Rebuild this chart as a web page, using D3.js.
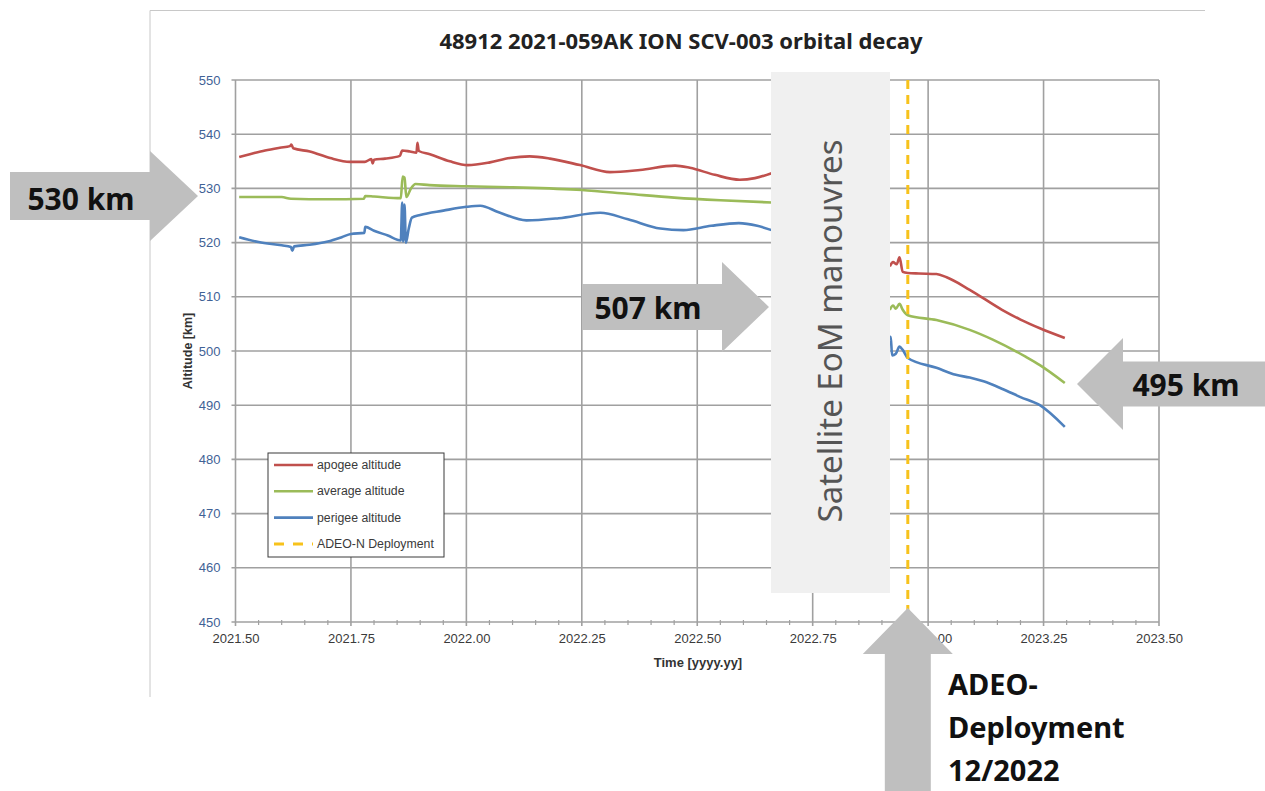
<!DOCTYPE html>
<meta charset="utf-8">
<style>
  body { margin: 0; background: #fff; }
  svg { display: block; }
</style>
<svg width="1265" height="791"></svg>
<script src="https://d3js.org/d3.v7.min.js"></script>
<script>

// ---- data (year, km) ----
var apogee = [
  [2021.508, 535.8], [2021.531, 536.3], [2021.564, 537.0], [2021.596, 537.5], [2021.618, 537.8],
  [2021.621, 538.1], [2021.625, 537.4], [2021.661, 536.8], [2021.705, 535.6], [2021.748, 534.9],
  [2021.780, 534.9], [2021.794, 535.4], [2021.797, 534.6], [2021.800, 535.3], [2021.824, 535.5],
  [2021.856, 536.0], [2021.861, 537.0], [2021.878, 536.8], [2021.892, 536.6], [2021.894, 538.4],
  [2021.897, 536.9], [2021.921, 536.3], [2021.964, 535.0], [2022.003, 534.3], [2022.051, 534.8],
  [2022.094, 535.6], [2022.137, 535.9], [2022.181, 535.5], [2022.246, 534.3], [2022.311, 533.0],
  [2022.376, 533.4], [2022.452, 534.2], [2022.484, 533.8], [2022.538, 532.5], [2022.592, 531.6],
  [2022.625, 531.9], [2022.661, 532.8]
];
var apogeeLate = [
  [2022.917, 515.6], [2022.924, 516.4], [2022.932, 516.0], [2022.938, 517.3], [2022.945, 514.6],
  [2022.956, 514.4], [2022.980, 514.3], [2023.018, 514.2], [2023.040, 513.6], [2023.090, 511.3],
  [2023.160, 507.6], [2023.200, 505.8], [2023.242, 504.2], [2023.296, 502.4]
];
var average = [
  [2021.508, 528.4], [2021.600, 528.4], [2021.620, 528.1], [2021.700, 528.0], [2021.778, 528.1],
  [2021.781, 528.6], [2021.800, 528.5], [2021.858, 528.2], [2021.862, 532.2], [2021.866, 532.0],
  [2021.870, 528.4], [2021.880, 530.0], [2021.890, 530.8], [2021.920, 530.6], [2022.000, 530.4],
  [2022.100, 530.2], [2022.250, 529.7], [2022.350, 529.0], [2022.450, 528.3], [2022.550, 527.8],
  [2022.661, 527.4]
];
var averageLate = [
  [2022.917, 507.6], [2022.924, 508.4], [2022.930, 507.8], [2022.938, 508.7], [2022.945, 507.6],
  [2022.956, 506.6], [2023.018, 505.7], [2023.090, 503.9], [2023.140, 502.1], [2023.210, 499.0],
  [2023.242, 497.4], [2023.296, 494.1]
];
var perigee = [
  [2021.508, 521.0], [2021.550, 520.1], [2021.600, 519.5], [2021.620, 519.2], [2021.623, 518.5],
  [2021.627, 519.3], [2021.660, 519.6], [2021.700, 520.2], [2021.730, 521.0], [2021.750, 521.6],
  [2021.779, 521.8], [2021.781, 522.9], [2021.800, 522.2], [2021.830, 521.3], [2021.858, 520.4],
  [2021.861, 527.4], [2021.863, 520.2], [2021.866, 527.0], [2021.869, 520.0], [2021.875, 522.5],
  [2021.882, 524.6], [2021.900, 525.1], [2021.950, 525.9], [2022.000, 526.6], [2022.030, 526.8],
  [2022.070, 525.6], [2022.130, 524.1], [2022.200, 524.5], [2022.290, 525.5], [2022.350, 524.3],
  [2022.420, 522.6], [2022.470, 522.3], [2022.530, 523.1], [2022.590, 523.6], [2022.630, 523.1],
  [2022.661, 522.3]
];
var perigeeLate = [
  [2022.917, 502.0], [2022.919, 502.6], [2022.922, 499.2], [2022.930, 499.5], [2022.938, 500.8],
  [2022.945, 500.2], [2022.956, 498.7], [2023.018, 496.9], [2023.060, 495.6], [2023.090, 495.1],
  [2023.120, 494.4], [2023.161, 493.0], [2023.200, 491.5], [2023.242, 490.0], [2023.296, 486.0]
];

var deployYear = 2022.956;
var xTicks = [2021.50, 2021.75, 2022.00, 2022.25, 2022.50, 2022.75, 2023.00, 2023.25, 2023.50];
var yTicks = [450, 460, 470, 480, 490, 500, 510, 520, 530, 540, 550];
var legendLabels = ["apogee altitude", "average altitude", "perigee altitude", "ADEO-N Deployment"];

var svg = d3.select("svg");

var x = d3.scaleLinear().domain([2021.5, 2023.5]).range([235.5, 1159]);
var y = d3.scaleLinear().domain([450, 550]).range([622, 80]);

// chart frame (top + left edges only visible)
svg.append("path")
  .attr("d", "M150,697 V10.5 H1205")
  .attr("fill", "none")
  .attr("stroke", "#c8c8c8")
  .attr("stroke-width", 1);

svg.append("text")
  .attr("x", 681).attr("y", 49)
  .attr("text-anchor", "middle")
  .attr("font-family", "Noto Sans")
  .attr("font-weight", "bold")
  .attr("font-size", 22)
  .attr("fill", "#222")
  .text("48912 2021-059AK ION SCV-003 orbital decay");

// grid
var grid = svg.append("g").attr("stroke", "#a0a0a0").attr("stroke-width", 1.6);
grid.selectAll(".h").data(yTicks).enter().append("line")
  .attr("x1", x(2021.5) - 4).attr("x2", x(2023.5))
  .attr("y1", function(d) { return y(d); }).attr("y2", function(d) { return y(d); });
grid.selectAll(".v").data(xTicks).enter().append("line")
  .attr("x1", function(d) { return x(d); }).attr("x2", function(d) { return x(d); })
  .attr("y1", y(550)).attr("y2", y(450) + 4);

// minor ticks on the time axis
var minor = d3.range(2021.55, 2023.5, 0.05).filter(function(d) {
  return Math.abs(d * 4 - Math.round(d * 4)) > 0.01;
});
svg.append("g").attr("stroke", "#a0a0a0").attr("stroke-width", 1.2)
  .selectAll("line").data(minor).enter().append("line")
  .attr("x1", function(d) { return x(d); }).attr("x2", function(d) { return x(d); })
  .attr("y1", y(450) - 2).attr("y2", y(450) + 3);

// axes labels
var xAxis = svg.append("g")
  .attr("transform", "translate(0," + (y(450) + 9) + ")")
  .call(d3.axisBottom(x).tickValues(xTicks).tickSize(0).tickFormat(d3.format(".2f")));
xAxis.select(".domain").remove();
xAxis.selectAll("text")
  .attr("font-family", "Liberation Sans").attr("font-size", 13).attr("fill", "#3a3a3a");

var yAxis = svg.append("g")
  .attr("transform", "translate(" + (x(2021.5) - 12) + ",0)")
  .call(d3.axisLeft(y).tickValues(yTicks).tickSize(0));
yAxis.select(".domain").remove();
yAxis.selectAll("text")
  .attr("font-family", "Liberation Sans").attr("font-size", 13).attr("fill", "#3f6296");

svg.append("text")
  .attr("x", 698).attr("y", 667)
  .attr("text-anchor", "middle")
  .attr("font-family", "Liberation Sans").attr("font-weight", "bold")
  .attr("font-size", 13).attr("fill", "#333")
  .text("Time [yyyy.yy]");

svg.append("text")
  .attr("transform", "translate(192," + y(500) + ") rotate(-90)")
  .attr("text-anchor", "middle")
  .attr("font-family", "Liberation Sans").attr("font-weight", "bold")
  .attr("font-size", 12.5).attr("fill", "#333")
  .text("Altitude [km]");

// series
var line = d3.line()
  .curve(d3.curveMonotoneX)
  .x(function(d) { return x(d[0]); })
  .y(function(d) { return y(d[1]); });
var series = [
  { data: apogee, color: "#c0504d" }, { data: apogeeLate, color: "#c0504d" },
  { data: average, color: "#9bbb59" }, { data: averageLate, color: "#9bbb59" },
  { data: perigee, color: "#4f81bd" }, { data: perigeeLate, color: "#4f81bd" }
];
svg.append("g").selectAll("path").data(series).enter().append("path")
  .attr("d", function(d) { return line(d.data); })
  .attr("fill", "none")
  .attr("stroke", function(d) { return d.color; })
  .attr("stroke-width", 2.6)
  .attr("stroke-linejoin", "round");

svg.append("line")
  .attr("x1", x(deployYear)).attr("x2", x(deployYear))
  .attr("y1", y(550)).attr("y2", y(450))
  .attr("stroke", "#f7c21b").attr("stroke-width", 3)
  .attr("stroke-dasharray", "9,6");

// legend
var legend = svg.append("g").attr("transform", "translate(268,453)");
legend.append("rect").attr("width", 176).attr("height", 104)
  .attr("fill", "#fff").attr("stroke", "#3a3a3a").attr("stroke-width", 1);
var legendColors = ["#c0504d", "#9bbb59", "#4f81bd", "#f7c21b"];
var item = legend.selectAll(".item").data(legendLabels).enter().append("g")
  .attr("transform", function(d, i) { return "translate(0," + (12 + i * 26.3) + ")"; });
item.append("line")
  .attr("x1", 6).attr("x2", 45)
  .attr("stroke", function(d, i) { return legendColors[i]; })
  .attr("stroke-width", function(d, i) { return i == 3 ? 3 : 2.6; })
  .attr("stroke-dasharray", function(d, i) { return i == 3 ? "10,9" : null; });
item.append("text")
  .attr("x", 49).attr("y", 4)
  .attr("font-family", "Liberation Sans").attr("font-size", 12.3)
  .attr("fill", "#3a3a3a")
  .text(function(d) { return d; });

// EoM manoeuvre box
svg.append("rect")
  .attr("x", 771).attr("y", 72).attr("width", 119).attr("height", 521)
  .attr("fill", "#f0f0f0");
svg.append("text")
  .attr("transform", "translate(842,331) rotate(-90)")
  .attr("text-anchor", "middle")
  .attr("font-family", "Noto Sans").attr("font-size", 33)
  .attr("fill", "#555")
  .text("Satellite EoM manouvres");

// annotation arrows
function arrowRight(x0, tip, ty, headBase, headHalf, bodyHalf) {
  return [[x0, ty - bodyHalf], [headBase, ty - bodyHalf], [headBase, ty - headHalf], [tip, ty],
          [headBase, ty + headHalf], [headBase, ty + bodyHalf], [x0, ty + bodyHalf]];
}
var arrows = [
  arrowRight(10, 198, 196, 150, 45, 24),
  arrowRight(582, 769, 307, 722, 45, 23),
  arrowRight(1265, 1077, 384, 1123, 46, 22.5)
];
// the upward arrow at the deployment date
var ux = x(deployYear);
arrows.push([[ux - 23, 791], [ux - 23, 654], [ux - 45, 654], [ux, 608],
             [ux + 45, 654], [ux + 23, 654], [ux + 23, 791]]);

svg.append("g").selectAll("polygon").data(arrows).enter().append("polygon")
  .attr("points", function(d) { return d.join(" "); })
  .attr("fill", "#bfbfbf");

var callouts = [
  { text: "530 km", x: 81, y: 210 },
  { text: "507 km", x: 648, y: 319 },
  { text: "495 km", x: 1186, y: 396 }
];
svg.append("g").selectAll("text").data(callouts).enter().append("text")
  .attr("x", function(d) { return d.x; }).attr("y", function(d) { return d.y; })
  .attr("text-anchor", "middle")
  .attr("font-family", "Noto Sans").attr("font-weight", "bold")
  .attr("font-size", 30).attr("fill", "#111")
  .text(function(d) { return d.text; });

var deployText = svg.append("text")
  .attr("x", 948)
  .attr("font-family", "Noto Sans").attr("font-weight", "bold")
  .attr("font-size", 29).attr("fill", "#111");
["ADEO-", "Deployment", "12/2022"].forEach(function(t, i) {
  deployText.append("tspan").attr("x", 948).attr("y", 695 + i * 43).text(t);
});

</script>
